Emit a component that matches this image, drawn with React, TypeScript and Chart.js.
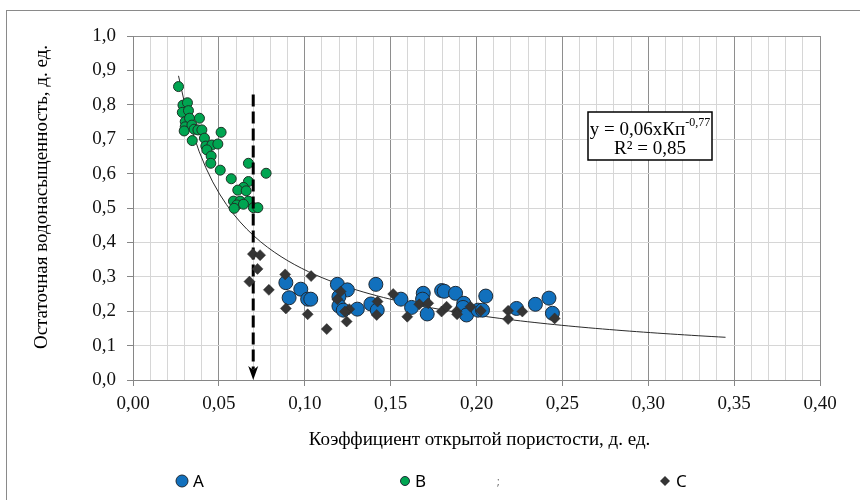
import React, { useEffect, useRef } from 'react';
import { Chart, registerables } from 'chart.js';

Chart.register(...registerables);

// Group A — open porosity (fraction) and residual water saturation (fraction)
const A_POROSITY = [0.089, 0.0909, 0.0977, 0.1017, 0.1035, 0.119, 0.1248, 0.1199, 0.1199, 0.1224, 0.1306, 0.1414, 0.1385, 0.1422, 0.156, 0.1622, 0.169, 0.1686, 0.1713, 0.1797, 0.1812, 0.1878, 0.1926, 0.1922, 0.1942, 0.2009, 0.2035, 0.2054, 0.2233, 0.2343, 0.2422, 0.2442];
const A_SATURATION = [0.283, 0.239, 0.264, 0.235, 0.235, 0.278, 0.262, 0.242, 0.215, 0.203, 0.206, 0.278, 0.221, 0.203, 0.235, 0.211, 0.252, 0.235, 0.192, 0.26, 0.258, 0.252, 0.223, 0.211, 0.189, 0.203, 0.203, 0.244, 0.208, 0.22, 0.238, 0.194];

// Group B
const B_POROSITY = [0.0265, 0.0291, 0.0317, 0.0287, 0.0323, 0.0304, 0.0329, 0.0387, 0.0304, 0.0298, 0.0343, 0.0356, 0.0378, 0.0401, 0.0513, 0.0345, 0.0416, 0.0424, 0.0459, 0.0494, 0.043, 0.0455, 0.0453, 0.0508, 0.0572, 0.0672, 0.0775, 0.0672, 0.0643, 0.061, 0.0659, 0.0585, 0.0624, 0.0672, 0.0605, 0.0643, 0.0589, 0.0701, 0.0727];
const B_SATURATION = [0.853, 0.799, 0.806, 0.778, 0.783, 0.751, 0.761, 0.761, 0.736, 0.724, 0.741, 0.729, 0.727, 0.727, 0.72, 0.696, 0.703, 0.68, 0.683, 0.686, 0.669, 0.651, 0.63, 0.61, 0.585, 0.63, 0.601, 0.577, 0.56, 0.552, 0.55, 0.52, 0.52, 0.52, 0.509, 0.511, 0.499, 0.501, 0.501];

// Group C
const C_POROSITY = [0.0698, 0.074, 0.0725, 0.0678, 0.0886, 0.1037, 0.0791, 0.089, 0.1017, 0.1128, 0.119, 0.1209, 0.1244, 0.1259, 0.1234, 0.1419, 0.1424, 0.1515, 0.1597, 0.1667, 0.1719, 0.1797, 0.1826, 0.1884, 0.1887, 0.1965, 0.2025, 0.2184, 0.2184, 0.2267, 0.2455];
const C_SATURATION = [0.366, 0.363, 0.323, 0.286, 0.307, 0.302, 0.262, 0.208, 0.191, 0.148, 0.235, 0.257, 0.17, 0.206, 0.199, 0.189, 0.228, 0.25, 0.184, 0.22, 0.223, 0.199, 0.213, 0.199, 0.191, 0.213, 0.201, 0.201, 0.177, 0.199, 0.179];

// Power-law trend y = a·x^b (shown rounded in the equation box)
const TREND_COEF = 0.055;
const TREND_EXP = -0.765;
const TREND_X_START = 0.0265;
const TREND_X_END = 0.345;
const TREND_STEPS = 80;

// Cut-off porosity marker
const CUTOFF_X = 0.07;
const CUTOFF_TOP = 0.83;
const CUTOFF_BOTTOM = 0.03;

const X_TICK_STEP = 0.01;
const X_LABEL_STEP = 0.05;
const Y_TICK_STEP = 0.1;

const EQUATION_TEXT = 'y = 0,06xКп';
const EQUATION_POWER = '-0,77';
const R2_TEXT = 'R² = 0,85';
const X_TITLE = 'Коэффициент открытой пористости, д. ед.';
const Y_TITLE = 'Остаточная водонасыщенность, д. ед.';
const LEGEND_LABELS = ['A', 'B', 'C'];

const BLUE = '#1170bd';
const GREEN = '#00a551';
const DARK = '#353535';
const SERIF = '"Liberation Serif", "Times New Roman", serif';
const SANS = '"Noto Sans", "Liberation Sans", sans-serif';

const zip = (xs: number[], ys: number[]) => xs.map((x, i) => ({ x, y: ys[i] }));

const trendPoints = () => {
  const pts: { x: number; y: number }[] = [];
  for (let i = 0; i <= TREND_STEPS; i++) {
    const x = TREND_X_START + ((TREND_X_END - TREND_X_START) * i) / TREND_STEPS;
    pts.push({ x, y: TREND_COEF * Math.pow(x, TREND_EXP) });
  }
  return pts;
};

const isMultiple = (v: number, step: number) => Math.abs(v / step - Math.round(v / step)) < 1e-6;

const decorPlugin = {
  id: 'decor',
  afterDraw(chart: any) {
    const { ctx, scales } = chart;
    const xs = scales.x;
    const ys = scales.y;
    ctx.save();

    // arrowhead of the cut-off marker
    const ax = xs.getPixelForValue(CUTOFF_X);
    const ay = ys.getPixelForValue(0);
    ctx.fillStyle = '#000';
    ctx.beginPath();
    ctx.moveTo(ax, ay);
    ctx.lineTo(ax - 5, ay - 14);
    ctx.lineTo(ax, ay - 10);
    ctx.lineTo(ax + 5, ay - 14);
    ctx.closePath();
    ctx.fill();

    // equation box
    const bx = 588, by = 112, bw = 124, bh = 48;
    ctx.fillStyle = '#fff';
    ctx.fillRect(bx, by, bw, bh);
    ctx.strokeStyle = '#000';
    ctx.lineWidth = 1.5;
    ctx.strokeRect(bx, by, bw, bh);
    ctx.fillStyle = '#000';
    ctx.textBaseline = 'alphabetic';
    ctx.font = `19px ${SERIF}`;
    const mainW = ctx.measureText(EQUATION_TEXT).width;
    ctx.font = `12px ${SERIF}`;
    const powW = ctx.measureText(EQUATION_POWER).width;
    const cx = bx + bw / 2;
    const startX = cx - (mainW + powW) / 2;
    ctx.font = `19px ${SERIF}`;
    ctx.textAlign = 'left';
    ctx.fillText(EQUATION_TEXT, startX, by + 23);
    ctx.font = `12px ${SERIF}`;
    ctx.fillText(EQUATION_POWER, startX + mainW, by + 14);
    ctx.font = `19px ${SERIF}`;
    ctx.textAlign = 'center';
    ctx.fillText(R2_TEXT, cx, by + 42);

    // axis titles
    ctx.font = `19px ${SERIF}`;
    ctx.textAlign = 'center';
    ctx.textBaseline = 'middle';
    ctx.fillText(X_TITLE, (xs.left + xs.right) / 2 + 3, 440);
    ctx.save();
    ctx.translate(42, 197);
    ctx.rotate(-Math.PI / 2);
    ctx.fillText(Y_TITLE, 0, 0);
    ctx.restore();

    // legend
    const ly = 481;
    ctx.font = `17px ${SANS}`;
    ctx.textAlign = 'left';
    ctx.lineWidth = 1;
    ctx.strokeStyle = '#1e2a36';
    ctx.fillStyle = BLUE;
    ctx.beginPath();
    ctx.arc(182, ly, 6, 0, Math.PI * 2);
    ctx.fill();
    ctx.stroke();
    ctx.fillStyle = '#000';
    ctx.fillText(LEGEND_LABELS[0], 193, ly + 1);

    ctx.fillStyle = GREEN;
    ctx.beginPath();
    ctx.arc(405, ly, 4.5, 0, Math.PI * 2);
    ctx.fill();
    ctx.stroke();
    ctx.fillStyle = '#000';
    ctx.fillText(LEGEND_LABELS[1], 415, ly + 1);

    ctx.fillStyle = '#666';
    ctx.font = `10px ${SANS}`;
    ctx.fillText(';', 497, ly + 1);

    ctx.fillStyle = DARK;
    ctx.beginPath();
    ctx.moveTo(665, ly - 5);
    ctx.lineTo(670, ly);
    ctx.lineTo(665, ly + 5);
    ctx.lineTo(660, ly);
    ctx.closePath();
    ctx.fill();
    ctx.fillStyle = '#000';
    ctx.font = `17px ${SANS}`;
    ctx.fillText(LEGEND_LABELS[2], 676, ly + 1);

    ctx.restore();
  },
};

export default function App() {
  const ref = useRef<HTMLCanvasElement | null>(null);

  useEffect(() => {
    if (!ref.current) return;
    const chart = new Chart(ref.current, {
      type: 'scatter',
      data: {
        datasets: [
          {
            label: 'C',
            data: zip(C_POROSITY, C_SATURATION),
            pointStyle: 'rectRot',
            pointRadius: 5.5,
            backgroundColor: DARK,
            borderColor: '#2a2a2a',
            borderWidth: 0.5,
            order: 0,
          },
          {
            label: 'cutoff',
            type: 'line',
            data: [
              { x: CUTOFF_X, y: CUTOFF_TOP },
              { x: CUTOFF_X, y: CUTOFF_BOTTOM },
            ],
            borderColor: '#000',
            borderWidth: 3,
            borderDash: [12, 5],
            pointRadius: 0,
            order: 1,
          },
          {
            label: 'B',
            data: zip(B_POROSITY, B_SATURATION),
            pointStyle: 'circle',
            pointRadius: 5,
            backgroundColor: GREEN,
            borderColor: '#1d3326',
            borderWidth: 1,
            order: 2,
          },
          {
            label: 'A',
            data: zip(A_POROSITY, A_SATURATION),
            pointStyle: 'circle',
            pointRadius: 7,
            backgroundColor: BLUE,
            borderColor: '#1e2a36',
            borderWidth: 1,
            order: 3,
          },
          {
            label: 'trend',
            type: 'line',
            data: trendPoints(),
            borderColor: '#2b2b2b',
            borderWidth: 1,
            pointRadius: 0,
            tension: 0,
            order: 4,
          },
        ],
      },
      options: {
        responsive: false,
        animation: false,
        events: [],
        layout: { padding: { left: 0, right: 40, top: 36, bottom: 0 } },
        plugins: {
          legend: { display: false },
          tooltip: { enabled: false },
        },
        scales: {
          x: {
            type: 'linear',
            min: 0,
            max: 0.4,
            afterFit: (s: any) => {
              s.height = 120;
            },
            border: { display: true, color: '#868686', width: 1 },
            grid: {
              color: (c: any) => (isMultiple(c.tick.value, X_LABEL_STEP) ? '#8e8e8e' : '#d6d6d6'),
              tickColor: (c: any) => (isMultiple(c.tick.value, X_LABEL_STEP) ? '#868686' : 'rgba(0,0,0,0)'),
              tickLength: 6,
              lineWidth: 1,
            },
            ticks: {
              stepSize: X_TICK_STEP,
              autoSkip: false,
              maxRotation: 0,
              padding: 7,
              color: '#111',
              font: { family: SERIF, size: 19 },
              callback: (v: any) => (isMultiple(Number(v), X_LABEL_STEP) ? Number(v).toFixed(2).replace('.', ',') : ''),
            },
          },
          y: {
            type: 'linear',
            min: 0,
            max: 1,
            afterFit: (s: any) => {
              s.width = 133;
            },
            border: { display: true, color: '#868686', width: 1 },
            grid: {
              color: (c: any) => (c.tick.value >= 1 - 1e-6 ? '#8e8e8e' : '#d6d6d6'),
              tickColor: '#868686',
              tickLength: 6,
              lineWidth: 1,
            },
            ticks: {
              stepSize: Y_TICK_STEP,
              padding: 11,
              color: '#111',
              font: { family: SERIF, size: 19 },
              callback: (v: any) => Number(v).toFixed(1).replace('.', ','),
            },
          },
        },
      },
      plugins: [decorPlugin],
    });
    return () => chart.destroy();
  }, []);

  return (
    <div style={{ position: 'absolute', left: 0, top: 0, width: 860, height: 500, background: '#fff', overflow: 'hidden' }}>
      <div
        style={{
          position: 'absolute',
          left: 6,
          top: 10,
          width: 900,
          height: 540,
          borderLeft: '1px solid #8a8a8a',
          borderTop: '1px solid #8a8a8a',
        }}
      />
      <canvas ref={ref} width={860} height={500} style={{ position: 'absolute', left: 0, top: 0, display: 'block' }} />
    </div>
  );
}
